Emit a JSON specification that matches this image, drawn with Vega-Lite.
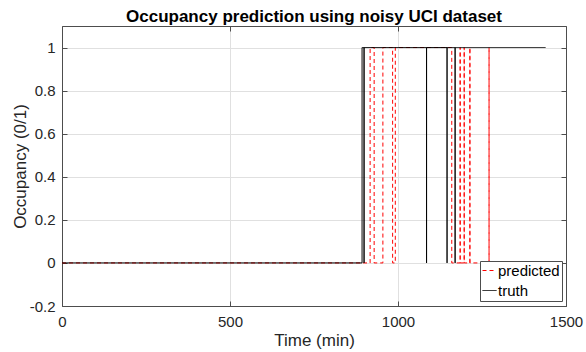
{
  "$schema": "https://vega.github.io/schema/vega-lite/v6.json",
  "autosize": "none",
  "width": 504,
  "height": 280,
  "padding": {"left": 62, "top": 26, "right": 20, "bottom": 46},
  "background": "white",
  "config": {
    "font": "Liberation Sans",
    "view": {"stroke": null},
    "axis": {
      "labelFont": "Liberation Sans",
      "titleFont": "Liberation Sans",
      "labelColor": "#262626",
      "titleColor": "#262626",
      "domainColor": "#4d4d4d",
      "tickColor": "#4d4d4d",
      "gridColor": "#e0e0e0",
      "labelFontSize": 15,
      "titleFontSize": 17,
      "titleFontWeight": "normal",
      "tickSize": -5
    }
  },
  "title": {
    "text": "Occupancy prediction using noisy UCI dataset",
    "font": "Liberation Sans",
    "fontSize": 17,
    "fontWeight": "bold",
    "color": "black",
    "anchor": "middle",
    "baseline": "bottom",
    "offset": -17
  },
  "data": {
    "values": [
      {"s": "predicted", "i": 0, "t": 0, "v": 0},
      {"s": "predicted", "i": 1, "t": 917, "v": 0},
      {"s": "predicted", "i": 2, "t": 917, "v": 1},
      {"s": "predicted", "i": 3, "t": 929, "v": 1},
      {"s": "predicted", "i": 4, "t": 929, "v": 0},
      {"s": "predicted", "i": 5, "t": 955, "v": 0},
      {"s": "predicted", "i": 6, "t": 955, "v": 1},
      {"s": "predicted", "i": 7, "t": 984, "v": 1},
      {"s": "predicted", "i": 8, "t": 984, "v": 0},
      {"s": "predicted", "i": 9, "t": 992, "v": 0},
      {"s": "predicted", "i": 10, "t": 992, "v": 1},
      {"s": "predicted", "i": 11, "t": 1160, "v": 1},
      {"s": "predicted", "i": 12, "t": 1160, "v": 0},
      {"s": "predicted", "i": 13, "t": 1185, "v": 0},
      {"s": "predicted", "i": 14, "t": 1185, "v": 1},
      {"s": "predicted", "i": 15, "t": 1185, "v": 0},
      {"s": "predicted", "i": 16, "t": 1197, "v": 0},
      {"s": "predicted", "i": 17, "t": 1197, "v": 1},
      {"s": "predicted", "i": 18, "t": 1197, "v": 0},
      {"s": "predicted", "i": 19, "t": 1214, "v": 0},
      {"s": "predicted", "i": 20, "t": 1214, "v": 1},
      {"s": "predicted", "i": 21, "t": 1214, "v": 0},
      {"s": "predicted", "i": 22, "t": 1271, "v": 0},
      {"s": "predicted", "i": 23, "t": 1271, "v": 1},
      {"s": "predicted", "i": 24, "t": 1271, "v": 0},
      {"s": "predicted", "i": 25, "t": 1439, "v": 0},
      {"s": "truth", "i": 0, "t": 0, "v": 0},
      {"s": "truth", "i": 1, "t": 893, "v": 0},
      {"s": "truth", "i": 2, "t": 893, "v": 1},
      {"s": "truth", "i": 3, "t": 899, "v": 1},
      {"s": "truth", "i": 4, "t": 899, "v": 0},
      {"s": "truth", "i": 5, "t": 899, "v": 1},
      {"s": "truth", "i": 6, "t": 1085, "v": 1},
      {"s": "truth", "i": 7, "t": 1085, "v": 0},
      {"s": "truth", "i": 8, "t": 1085, "v": 1},
      {"s": "truth", "i": 9, "t": 1146, "v": 1},
      {"s": "truth", "i": 10, "t": 1146, "v": 0},
      {"s": "truth", "i": 11, "t": 1146, "v": 1},
      {"s": "truth", "i": 12, "t": 1170, "v": 1},
      {"s": "truth", "i": 13, "t": 1170, "v": 0},
      {"s": "truth", "i": 14, "t": 1170, "v": 1},
      {"s": "truth", "i": 15, "t": 1439, "v": 1}
    ]
  },
  "resolve": {"axis": {"x": "independent", "y": "independent"}},
  "layer": [
    {
      "transform": [{"filter": "datum.s === 'predicted'"}],
      "mark": {"type": "line", "strokeWidth": 1, "clip": true},
      "encoding": {
        "x": {
          "field": "t", "type": "quantitative",
          "scale": {"domain": [0, 1500], "nice": false, "zero": false},
          "axis": {"orient": "bottom", "title": "Time (min)", "values": [0, 500, 1000, 1500], "grid": true, "labelPadding": 13, "titlePadding": 16, "titleBaseline": "alphabetic", "labelFlush": false, "labelExpr": "'' + datum.value"}
        },
        "y": {
          "field": "v", "type": "quantitative",
          "scale": {"domain": [-0.2, 1.1], "nice": false, "zero": false},
          "axis": {"orient": "left", "title": "Occupancy (0/1)", "values": [-0.2, 0, 0.2, 0.4, 0.6, 0.8, 1], "grid": true, "labelPadding": 12, "titlePadding": 4, "titleBaseline": "alphabetic", "labelExpr": "'' + datum.value"}
        },
        "order": {"field": "i", "type": "quantitative"},
        "color": {
          "field": "s", "type": "nominal",
          "scale": {"domain": ["predicted", "truth"], "range": ["#ff0000", "#000000"]},
          "legend": {
            "title": null,
            "orient": "none",
            "legendX": 418,
            "legendY": 235,
            "symbolType": "stroke",
            "symbolSize": 196,
            "symbolStrokeWidth": 1,
            "labelFont": "Liberation Sans",
            "labelFontSize": 15,
            "labelColor": "black",
            "labelOffset": 1,
            "padding": 2,
            "rowPadding": 4,
            "fillColor": "white",
            "strokeColor": "#4d4d4d",
            "cornerRadius": 0
          }
        },
        "strokeDash": {
          "field": "s", "type": "nominal",
          "scale": {"domain": ["predicted", "truth"], "range": [[4, 3], [1, 0]]},
          "legend": null
        }
      }
    },
    {
      "transform": [{"filter": "datum.s === 'truth'"}],
      "mark": {"type": "line", "strokeWidth": 1, "clip": true},
      "encoding": {
        "x": {
          "field": "t", "type": "quantitative",
          "axis": {"orient": "top", "title": null, "values": [0, 500, 1000, 1500], "labels": false, "grid": false}
        },
        "y": {
          "field": "v", "type": "quantitative",
          "axis": {"orient": "right", "title": null, "values": [-0.2, 0, 0.2, 0.4, 0.6, 0.8, 1], "labels": false, "grid": false}
        },
        "order": {"field": "i", "type": "quantitative"},
        "color": {"field": "s", "type": "nominal"},
        "strokeDash": {"field": "s", "type": "nominal"}
      }
    }
  ]
}
